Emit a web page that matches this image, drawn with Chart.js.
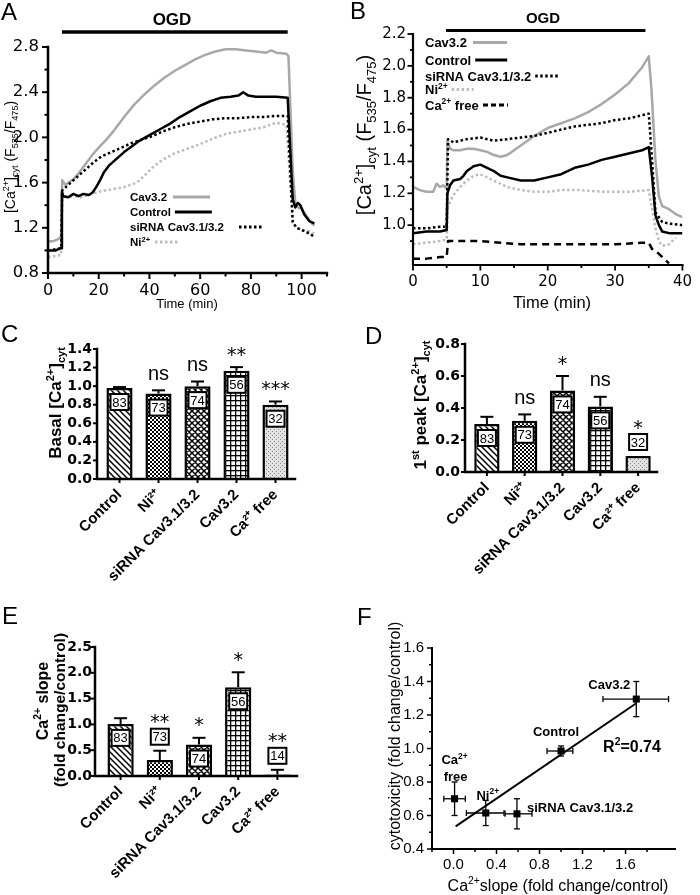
<!DOCTYPE html>
<html><head><meta charset="utf-8">
<script src="https://cdn.jsdelivr.net/npm/chart.js@4.4.0/dist/chart.umd.min.js"></script>
<style>
html,body{margin:0;padding:0;background:#fff;}
#fig{position:relative;width:700px;height:895px;overflow:hidden;background:#fff;}
canvas{position:absolute;}
</style></head><body><div id="fig">
<canvas id="cA" width="350" height="315" style="left:0;top:0"></canvas>
<canvas id="cB" width="350" height="315" style="left:350px;top:0"></canvas>
<canvas id="cC" width="350" height="285" style="left:0;top:315px"></canvas>
<canvas id="cD" width="350" height="285" style="left:350px;top:315px"></canvas>
<canvas id="cE" width="350" height="295" style="left:0;top:600px"></canvas>
<canvas id="cF" width="350" height="295" style="left:350px;top:600px"></canvas>
</div>
<script>
// ---------------- DATA ----------------
// Panel A (time in min, ratio)
const tA_cav = [0,2,4,5.2,5.6,6.2,7,8,10,12,14,16,18,20,23,26,30,34,38,42,46,50,54,58,62,66,70,74,78,82,86,88,90,94,94.8,95.5,96.5,97.5,98.5,100,102,104,105];
const yA_cav = [1.08,1.08,1.10,1.12,1.62,1.60,1.58,1.60,1.63,1.68,1.74,1.80,1.86,1.91,1.98,2.06,2.18,2.29,2.38,2.46,2.53,2.59,2.64,2.69,2.73,2.76,2.78,2.78,2.77,2.76,2.75,2.77,2.75,2.74,2.72,2.30,1.70,1.42,1.38,1.37,1.30,1.24,1.22];
const tA_ctl = [0,3,5.2,5.5,6,8,10,12,14,16,17.5,19,20.5,22,24,27,30,33,36,40,44,48,52,56,60,64,68,72,75,77,79,82,86,90,94.5,95.5,96.5,97.5,98.5,99.5,101,103,105];
const yA_ctl = [1.00,1.00,1.02,1.52,1.48,1.47,1.50,1.48,1.50,1.49,1.51,1.56,1.62,1.69,1.75,1.81,1.87,1.92,1.97,2.02,2.07,2.12,2.18,2.23,2.28,2.32,2.35,2.36,2.37,2.40,2.37,2.36,2.36,2.36,2.35,1.90,1.45,1.38,1.42,1.40,1.32,1.26,1.24];
const tA_si = [0,3,5.2,5.6,7,9,12,15,18,21,25,29,33,37,41,45,50,55,60,65,70,75,80,85,90,94.5,95.5,96.5,98,100,103,105];
const yA_si = [1.00,1.01,1.02,1.53,1.56,1.60,1.66,1.72,1.78,1.83,1.87,1.91,1.95,1.98,2.01,2.05,2.09,2.12,2.14,2.16,2.17,2.17,2.18,2.18,2.19,2.19,1.70,1.25,1.20,1.18,1.15,1.12];
const tA_ni = [0,3,5.2,5.6,8,10,13,16,20,25,30,35,38,41,45,50,55,60,65,70,75,80,85,90,94,95.5,96.5,98,100,103,105];
const yA_ni = [0.94,0.95,0.96,1.48,1.47,1.48,1.47,1.49,1.52,1.54,1.56,1.60,1.66,1.73,1.80,1.86,1.90,1.94,1.99,2.03,2.05,2.07,2.09,2.13,2.11,1.60,1.25,1.20,1.18,1.17,1.15];
const ogdA = [5.5, 94.5];

// Panel B
const tB_cav = [0,1,2,3,3.5,4,4.5,5,5.1,5.5,6,7,8,9,10,11,12,13,14,15,16,18,20,22,24,26,28,30,32,34,35,35.4,36,36.5,37,38,39,40];
const yB_cav = [1.24,1.22,1.21,1.21,1.26,1.24,1.25,1.23,1.53,1.48,1.47,1.47,1.48,1.48,1.47,1.46,1.44,1.43,1.44,1.47,1.50,1.56,1.61,1.64,1.67,1.71,1.76,1.82,1.89,1.99,2.06,1.85,1.40,1.18,1.12,1.10,1.07,1.05];
const tB_ctl = [0,2,4,5,5.1,5.5,6,7,7.5,8,9,10,11,12,13,14,16,18,20,22,24,26,28,30,32,34,35,35.5,36,36.5,37,38,40];
const yB_ctl = [0.95,0.96,0.96,0.97,1.20,1.25,1.28,1.29,1.31,1.34,1.37,1.38,1.36,1.34,1.31,1.30,1.28,1.28,1.30,1.32,1.36,1.38,1.41,1.43,1.45,1.47,1.49,1.30,1.06,1.00,0.96,0.95,0.95];
const tB_si = [0,2,4,5,5.2,6,8,10,12,14,16,18,20,22,24,26,28,30,32,34,35,35.5,36,37,38,40];
const yB_si = [0.98,0.98,0.99,0.99,1.54,1.52,1.54,1.55,1.53,1.54,1.55,1.56,1.58,1.60,1.62,1.63,1.64,1.66,1.67,1.69,1.70,1.40,1.08,1.02,1.01,1.00];
const tB_ni = [0,2,4,5,5.2,6,7,8,9,10,11,12,14,16,18,20,22,25,28,30,32,35,35.5,36,36.5,37,38,39];
const yB_ni = [0.88,0.89,0.90,0.91,1.12,1.19,1.24,1.28,1.31,1.32,1.30,1.28,1.24,1.22,1.21,1.21,1.22,1.22,1.21,1.21,1.21,1.22,1.10,0.98,0.90,0.87,0.88,0.92];
const tB_ca = [0,2,4,5,5.2,8,10,13,16,20,25,30,34,35,35.5,36.5,37.5,38];
const yB_ca = [0.79,0.79,0.80,0.80,0.90,0.90,0.90,0.89,0.88,0.88,0.88,0.88,0.89,0.89,0.85,0.82,0.78,0.76];
const ogdB = [4.9, 34.5];

// Bar panels
const groups = ['Control','Ni²⁺','siRNA Cav3.1/3.2','Cav3.2','Ca²⁺ free'];
const valsC = [0.98,0.92,1.00,1.165,0.80];
const errC  = [0.01,0.035,0.05,0.04,0.035];
const nC    = [83,73,74,56,32];
const sigC  = ['','ns','ns','**','***'];
const valsD = [0.30,0.32,0.51,0.41,0.10];
const errD  = [0.045,0.04,0.09,0.06,0];
const nD    = [83,73,74,56,32];
const sigD  = ['','ns','*','ns','*'];
const valsE = [1.01,0.31,0.61,1.72,0.03];
const errE  = [0.11,0.18,0.13,0.29,0.09];
const nE    = [83,73,74,56,14];
const sigE  = ['','**','*','*','**'];

// Panel F
const namesF = ['Ca²⁺ free','Ni²⁺','siRNA Cav3.1/3.2','Control','Cav3.2'];
const xF   = [0.01,0.30,0.59,1.00,1.70];
const yF   = [0.70,0.615,0.61,0.985,1.295];
const xLoF = [-0.09,0.12,0.48,0.87,1.39];
const xHiF = [0.11,0.47,0.73,1.11,2.00];
const yLoF = [0.60,0.54,0.52,0.955,1.19];
const yHiF = [0.80,0.69,0.70,1.015,1.40];
const fitX = [0.02,1.70];
const fitY = [0.535,1.27];

// ---------------- HELPERS ----------------
const ARIAL = '"Liberation Sans", Arial, sans-serif';
const DJV = '"DejaVu Sans", sans-serif';
const GRAY = '#a8a8a8', LGRAY = '#bcbcbc';
Chart.defaults.color = '#000';
Chart.defaults.font.family = ARIAL;

const pts = (t, v) => t.map((x, i) => ({x, y: v[i]}));
const isStep = (v, st) => Math.abs(v / st - Math.round(v / st)) < 1e-6;
const lab = (st, dec, minV) => (v) => (isStep(v, st) && (minV === undefined || v >= minV - 1e-9)) ? Number(v).toFixed(dec) : '';

function lineDS(label, t, v, color, dash, w) {
  return {label, data: pts(t, v), borderColor: color, borderWidth: w || 2.5, borderDash: dash || [],
    pointRadius: 0, tension: 0, fill: false, borderCapStyle: 'butt', borderJoinStyle: 'round'};
}
function linAxis(min, max, step, cb, font, pad, fit) {
  return {type: 'linear', min, max, grid: {display: false, drawTicks: false}, border: {display: false},
    ticks: {stepSize: step, autoSkip: false, color: '#000', font, padding: pad, callback: cb, maxRotation: 0, minRotation: 0},
    afterFit: fit};
}
function parseRich(s) {
  const out = []; let buf = '', i = 0;
  while (i < s.length) {
    if ((s[i] === '^' || s[i] === '_') && s[i + 1] === '{') {
      if (buf) { out.push({t: buf, m: 0}); buf = ''; }
      const j = s.indexOf('}', i);
      out.push({t: s.slice(i + 2, j), m: s[i] === '^' ? 1 : -1});
      i = j + 1;
    } else { buf += s[i]; i++; }
  }
  if (buf) out.push({t: buf, m: 0});
  return out;
}
function drawRich(ctx, s, x, y, o) {
  const segs = parseRich(s);
  const fam = o.family || ARIAL;
  const fnt = (m) => `${o.bold ? 'bold ' : ''}${m ? o.size * 0.65 : o.size}px ${fam}`;
  let w = 0;
  segs.forEach(g => { ctx.font = fnt(g.m); g.w = ctx.measureText(g.t).width; w += g.w; });
  ctx.save(); ctx.translate(x, y); if (o.rot) ctx.rotate(o.rot);
  ctx.fillStyle = '#000'; ctx.textAlign = 'left'; ctx.textBaseline = 'alphabetic';
  let cx = o.align === 'left' ? 0 : o.align === 'right' ? -w : -w / 2;
  const base = o.size * 0.36;
  segs.forEach(g => {
    ctx.font = fnt(g.m);
    const dy = g.m === 1 ? -o.size * 0.4 : g.m === -1 ? o.size * 0.22 : 0;
    ctx.fillText(g.t, cx, base + dy); cx += g.w;
  });
  ctx.restore();
  return w;
}
function txt(ctx, s, x, y, font, align) {
  ctx.save(); ctx.font = font; ctx.fillStyle = '#000'; ctx.textAlign = align || 'center'; ctx.textBaseline = 'alphabetic';
  const m = ctx.measureText(s);
  ctx.fillText(s, x, y + (m.actualBoundingBoxAscent - m.actualBoundingBoxDescent) / 2);
  ctx.restore();
}
function seg(ctx, x0, y0, x1, y1, w, color, dash) {
  ctx.save(); ctx.strokeStyle = color || '#000'; ctx.lineWidth = w; ctx.setLineDash(dash || []);
  ctx.beginPath(); ctx.moveTo(x0, y0); ctx.lineTo(x1, y1); ctx.stroke(); ctx.restore();
}
function drawAxes(chart, o) {
  const {ctx, chartArea: a} = chart; const xs = chart.scales.x, ys = chart.scales.y;
  const ax = a.left - (o.gap || 0);
  ctx.save(); ctx.strokeStyle = '#000'; ctx.lineWidth = o.lw; ctx.lineCap = 'square'; ctx.setLineDash([]);
  ctx.beginPath(); ctx.moveTo(ax, a.top); ctx.lineTo(ax, a.bottom); ctx.lineTo(a.right, a.bottom); ctx.stroke();
  ctx.lineCap = 'butt'; ctx.lineWidth = o.tw || 1.5;
  ys.ticks.forEach(t => {
    if (o.yStep && !isStep(t.value, o.yStep)) return;
    const p = ys.getPixelForValue(t.value); const L = t.label === '' ? o.minor : o.major;
    ctx.beginPath(); ctx.moveTo(ax - L, p); ctx.lineTo(ax, p); ctx.stroke();
  });
  xs.ticks.forEach((t, i) => {
    if (o.xStep && !isStep(t.value, o.xStep)) return;
    const p = xs.getPixelForTick(i); const L = t.label === '' ? o.minor : o.major;
    ctx.beginPath(); ctx.moveTo(p, a.bottom); ctx.lineTo(p, a.bottom + L); ctx.stroke();
  });
  ctx.restore();
}
function legendRow(ctx, x, y, label, sx0, len, color, dash, size) {
  const w = drawRich(ctx, label, x, y, {size, bold: true, align: 'left'});
  const s0 = Math.max(sx0, x + w + 4);
  seg(ctx, s0, y, s0 + len, y, 3, color, dash);
}
function pat(kind) {
  const s = {diag: 6, check: 4, cross: 6, grid: 5, dots: 4}[kind];
  const c = document.createElement('canvas'); c.width = c.height = s;
  const g = c.getContext('2d');
  g.fillStyle = kind === 'dots' ? '#e2e2e2' : '#fff'; g.fillRect(0, 0, s, s);
  g.strokeStyle = '#000'; g.fillStyle = '#000';
  if (kind === 'diag' || kind === 'cross') {
    g.lineWidth = 1.5; g.beginPath();
    g.moveTo(-1, -1); g.lineTo(s + 1, s + 1); g.moveTo(-1, s - 1); g.lineTo(1, s + 1); g.moveTo(s - 1, -1); g.lineTo(s + 1, 1);
    if (kind === 'cross') { g.moveTo(-1, s + 1); g.lineTo(s + 1, -1); g.moveTo(-1, 1); g.lineTo(1, -1); g.moveTo(s - 1, s + 1); g.lineTo(s + 1, s - 1); }
    g.stroke();
  } else if (kind === 'check') {
    g.fillRect(0, 0, 2, 2); g.fillRect(2, 2, 2, 2);
  } else if (kind === 'grid') {
    g.fillRect(0, 0, s, 1.3); g.fillRect(0, 0, 1.3, s);
  } else if (kind === 'dots') {
    g.fillStyle = '#8a8a8a'; g.fillRect(0, 0, 1, 1); g.fillRect(2, 2, 1, 1);
  }
  return g.createPattern(c, 'repeat');
}
const patterns = [pat('diag'), pat('check'), pat('cross'), pat('grid'), pat('dots')];
const base = {responsive: false, animation: false, events: [], plugins: {legend: {display: false}, tooltip: {enabled: false}}};

// ---------------- PANEL A ----------------
new Chart(document.getElementById('cA'), {
  type: 'line',
  data: {datasets: [
    lineDS('Control', tA_ctl, yA_ctl, '#000', [], 2.5),
    lineDS('siRNA Cav3.1/3.2', tA_si, yA_si, '#000', [2.5, 2.5], 2.5),
    lineDS('Cav3.2', tA_cav, yA_cav, GRAY, [], 2.5),
    lineDS('Ni2+', tA_ni, yA_ni, LGRAY, [2.5, 2.5], 2.5)]},
  options: {...base, layout: {padding: {left: 0, top: 47, right: 23, bottom: 0}},
    scales: {
      x: linAxis(0, 110, 10, lab(20, 0), {family: DJV, size: 16}, 8, s => { s.height = 42; }),
      y: linAxis(0.8, 2.8, 0.2, lab(0.4, 1), {family: DJV, size: 16.5}, 9, s => { s.width = 48; })
    }},
  plugins: [{id: 'pA', afterDraw(c) {
    const ctx = c.ctx, xs = c.scales.x;
    drawAxes(c, {lw: 2.5, tw: 2, major: 6, minor: 3.5, xStep: 10, yStep: 0.2});
    seg(ctx, xs.getPixelForValue(ogdA[0]), 32, xs.getPixelForValue(ogdA[1]), 32, 3.5);
    txt(ctx, 'OGD', 172, 18.5, `bold 17px ${ARIAL}`);
    txt(ctx, 'A', 1, 11, `24px ${ARIAL}`, 'left');
    drawRich(ctx, '[Ca^{2+}]_{cyt} (F_{535}/F_{475})', 10, 157, {size: 14, rot: -Math.PI / 2});
    drawRich(ctx, 'Time (min)', 187, 303, {size: 13});
    legendRow(ctx, 130, 197, 'Cav3.2', 173, 37, GRAY, [], 11.5);
    legendRow(ctx, 130, 212, 'Control', 173, 37, '#000', [], 11.5);
    legendRow(ctx, 130, 227, 'siRNA Cav3.1/3.2', 239, 24, '#000', [2.5, 2.5], 11.5);
    legendRow(ctx, 130, 242, 'Ni^{2+}', 155, 25, LGRAY, [2.5, 2.5], 11.5);
  }}]
});

// ---------------- PANEL B ----------------
new Chart(document.getElementById('cB'), {
  type: 'line',
  data: {datasets: [
    lineDS('Control', tB_ctl, yB_ctl, '#000', [], 2.5),
    lineDS('siRNA Cav3.1/3.2', tB_si, yB_si, '#000', [2.5, 2.5], 2.5),
    lineDS('Ca2+ free', tB_ca, yB_ca, '#000', [7, 5], 2.5),
    lineDS('Cav3.2', tB_cav, yB_cav, GRAY, [], 2.5),
    lineDS('Ni2+', tB_ni, yB_ni, LGRAY, [2.5, 2.5], 2.5)]},
  options: {...base, layout: {padding: {left: 0, top: 34, right: 10, bottom: 0}},
    scales: {
      x: linAxis(0, 40, 5, lab(10, 0), {family: DJV, size: 15}, 8, s => { s.height = 50; }),
      y: linAxis(0.75, 2.2, 0.1, lab(0.2, 1), {family: DJV, size: 15}, 7, s => { s.width = 63; })
    }},
  plugins: [{id: 'pB', afterDraw(c) {
    const ctx = c.ctx, xs = c.scales.x;
    drawAxes(c, {lw: 2.2, tw: 1.8, major: 5.5, minor: 3, xStep: 5, yStep: 0.1});
    seg(ctx, xs.getPixelForValue(ogdB[0]), 30.5, xs.getPixelForValue(ogdB[1]), 30.5, 3);
    txt(ctx, 'OGD', 193, 17.5, `bold 15px ${ARIAL}`);
    txt(ctx, 'B', 0, 10, `24px ${ARIAL}`, 'left');
    drawRich(ctx, '[Ca^{2+}]_{cyt} (F_{535}/F_{475})', 14, 135, {size: 20, rot: -Math.PI / 2});
    drawRich(ctx, 'Time (min)', 202, 302, {size: 16.5});
    legendRow(ctx, 75, 42.5, 'Cav3.2', 123, 34, GRAY, [], 13);
    legendRow(ctx, 75, 60, 'Control', 125, 32, '#000', [], 13);
    legendRow(ctx, 75, 76, 'siRNA Cav3.1/3.2', 185, 25, '#000', [2.5, 2.5], 13);
    legendRow(ctx, 75, 89.5, 'Ni^{2+}', 97, 22, LGRAY, [2.5, 2.5], 13);
    legendRow(ctx, 75, 105, 'Ca^{2+} free', 133, 25, '#000', [5, 3], 13);
  }}]
});

// ---------------- BAR PANELS ----------------
function barExtras(chart, vals, errs, ns, sigs) {
  const {ctx} = chart; const meta = chart.getDatasetMeta(0); const ys = chart.scales.y;
  meta.data.forEach((bar, i) => {
    const cx = bar.x, top = bar.y, bottom = bar.base;
    let errTop = top;
    if (errs[i] > 0) {
      errTop = ys.getPixelForValue(vals[i] + errs[i]);
      seg(ctx, cx, top, cx, errTop, 2); seg(ctx, cx - 6.5, errTop, cx + 6.5, errTop, 2);
    }
    const bw = 18, bh = 16;
    const inside = (bottom - top) > 26;
    const bTop = inside ? top + 6 : errTop - 6 - bh;
    ctx.save(); ctx.fillStyle = '#fff'; ctx.fillRect(cx - bw / 2, bTop, bw, bh);
    ctx.lineWidth = 2; ctx.strokeStyle = '#000'; ctx.strokeRect(cx - bw / 2, bTop, bw, bh); ctx.restore();
    txt(ctx, String(ns[i]), cx, bTop + bh / 2, `13px ${ARIAL}`);
    const s = sigs[i]; if (!s) return;
    const ref = inside ? errTop : bTop;
    const cy = ref - (inside ? 16 : 10);
    if (s === 'ns') txt(ctx, 'ns', cx, cy, `20px ${ARIAL}`);
    else txt(ctx, s, cx, cy, `19px ${DJV}`);
  });
}
function barChart(id, vals, errs, ns, sigs, ymax, ystep, area, gap, labPad, titleFn, canvasH) {
  return new Chart(document.getElementById(id), {
    type: 'bar',
    data: {labels: groups, datasets: [{data: vals, backgroundColor: patterns, borderColor: '#000', borderWidth: 2.5,
      barPercentage: 0.67, categoryPercentage: 1}]},
    options: {...base, layout: {padding: {left: 0, top: area.top, right: 350 - area.right, bottom: 0}},
      scales: {
        x: {type: 'category', grid: {display: false, drawTicks: false}, border: {display: false},
          ticks: {autoSkip: false, minRotation: 45, maxRotation: 45, padding: 7, color: '#000',
            font: {family: ARIAL, size: 15, weight: 'bold'}},
          afterFit: s => { s.height = canvasH - area.bottom; }},
        y: linAxis(0, ymax, ystep, v => Number(v).toFixed(1), {family: DJV, size: 14, weight: 'bold'}, gap + labPad,
          s => { s.width = area.left; })
      }},
    plugins: [{id: 'p' + id, afterDraw(c) {
      drawAxes(c, {lw: 2.5, tw: 2, major: 4, minor: 4, gap});
      barExtras(c, vals, errs, ns, sigs);
      titleFn(c.ctx);
    }}]
  });
}
barChart('cC', valsC, errC, nC, sigC, 1.4, 0.2, {left: 100, right: 295, top: 34, bottom: 164}, 3, 5, ctx => {
  txt(ctx, 'C', 1, 18.5, `24px ${ARIAL}`, 'left');
  drawRich(ctx, 'Basal [Ca^{2+}]_{cyt}', 55, 88, {size: 17, bold: true, rot: -Math.PI / 2});
}, 285);
barChart('cD', valsD, errD, nD, sigD, 0.8, 0.2, {left: 118, right: 307, top: 29, bottom: 157}, 3, 5, ctx => {
  txt(ctx, 'D', 15, 20.5, `24px ${ARIAL}`, 'left');
  drawRich(ctx, '1^{st} peak [Ca^{2+}]_{cyt}', 70, 90, {size: 17, bold: true, rot: -Math.PI / 2});
}, 285);
barChart('cE', valsE, errE, nE, sigE, 2.5, 0.5, {left: 101, right: 297, top: 47, bottom: 176}, 6, 3, ctx => {
  txt(ctx, 'E', 2, 15, `24px ${ARIAL}`, 'left');
  drawRich(ctx, 'Ca^{2+} slope', 42, 101, {size: 16, bold: true, rot: -Math.PI / 2});
  drawRich(ctx, '(fold change/control)', 59, 110, {size: 15.5, bold: true, rot: -Math.PI / 2});
}, 295);

// ---------------- PANEL F ----------------
new Chart(document.getElementById('cF'), {
  type: 'scatter',
  data: {datasets: [
    {type: 'scatter', label: 'groups', data: pts(xF, yF), pointStyle: 'rect', pointRadius: 5, backgroundColor: '#000', borderColor: '#000', borderWidth: 0},
    {type: 'line', label: 'fit', data: pts(fitX, fitY), borderColor: '#000', borderWidth: 2, pointRadius: 0, fill: false, tension: 0}
  ]},
  options: {...base, layout: {padding: {left: 0, top: 48, right: 25, bottom: 0}},
    scales: {
      x: linAxis(-0.2, 2.06, 0.2, lab(0.4, 1, 0), {family: ARIAL, size: 15}, 7, s => { s.height = 46; }),
      y: linAxis(0.4, 1.6, 0.1, lab(0.2, 1), {family: ARIAL, size: 15}, 8, s => { s.width = 82; })
    }},
  plugins: [{id: 'pF', afterDraw(c) {
    const ctx = c.ctx, xs = c.scales.x, ys = c.scales.y;
    drawAxes(c, {lw: 2, tw: 1.5, major: 5, minor: 3, xStep: 0.2, yStep: 0.1});
    xF.forEach((v, i) => {
      const px = xs.getPixelForValue(v), py = ys.getPixelForValue(yF[i]);
      const x0 = xs.getPixelForValue(xLoF[i]), x1 = xs.getPixelForValue(xHiF[i]);
      const y0 = ys.getPixelForValue(yLoF[i]), y1 = ys.getPixelForValue(yHiF[i]);
      seg(ctx, x0, py, x1, py, 1.3); seg(ctx, x0, py - 3, x0, py + 3, 1.3); seg(ctx, x1, py - 3, x1, py + 3, 1.3);
      seg(ctx, px, y0, px, y1, 1.3); seg(ctx, px - 3, y0, px + 3, y0, 1.3); seg(ctx, px - 3, y1, px + 3, y1, 1.3);
    });
    const P = i => [xs.getPixelForValue(xF[i]), ys.getPixelForValue(yF[i])];
    const o = {size: 13, bold: true};
    let p;
    p = P(0); drawRich(ctx, 'Ca^{2+}', p[0], p[1] - 39, o); drawRich(ctx, 'free', p[0] + 1, p[1] - 22, o);
    p = P(1); drawRich(ctx, 'Ni^{2+}', p[0] + 2, p[1] - 18, o);
    p = P(2); drawRich(ctx, 'siRNA Cav3.1/3.2', p[0] + 10, p[1] - 7, {...o, align: 'left'});
    p = P(3); drawRich(ctx, 'Control', p[0] - 5, p[1] - 20, o);
    p = P(4); drawRich(ctx, 'Cav3.2', p[0] - 27, p[1] - 15, o);
    drawRich(ctx, 'R^{2}=0.74', 282, 146, {size: 16, bold: true});
    txt(ctx, 'F', 7, 16, `24px ${ARIAL}`, 'left');
    drawRich(ctx, 'cytotoxicity (fold change/control)', 44, 136, {size: 16, rot: -Math.PI / 2});
    drawRich(ctx, 'Ca^{2+}slope (fold change/control)', 208, 285, {size: 16});
  }}]
});
</script></body></html>
